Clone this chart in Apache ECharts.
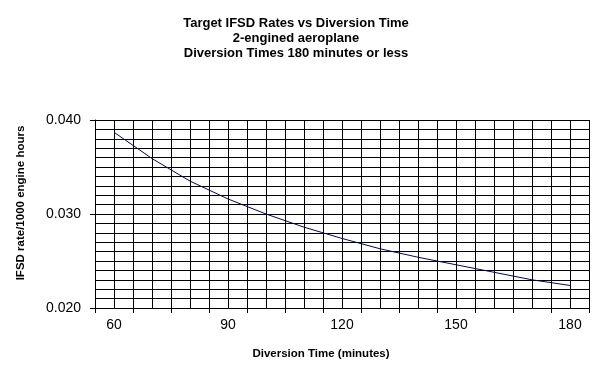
<!DOCTYPE html>
<html>
<head>
<meta charset="utf-8">
<script src="https://cdn.jsdelivr.net/npm/echarts@6/dist/echarts.min.js"></script>
<style>html,body{margin:0;padding:0;background:#fff}#c{width:601px;height:385px}</style>
</head>
<body>
<div id="c"></div>
<script>
var categories = ['60','70','80','90','100','110','120','130','140','150','160','170','180'];
var ifsdRate = [0.0387, 0.0359, 0.0335, 0.0316, 0.0300, 0.0286, 0.0274, 0.0263, 0.0254, 0.0246, 0.0238, 0.0230, 0.0224];
var titleLines = ['Target IFSD Rates vs Diversion Time', '2-engined aeroplane', 'Diversion Times 180 minutes or less'];
var xName = 'Diversion Time (minutes)';
var yName = 'IFSD rate/1000 engine hours';

var chart = echarts.init(document.getElementById('c'), null, {renderer: 'canvas'});
var black = '#000';
chart.setOption({
  animation: false,
  backgroundColor: '#fff',
  title: {
    text: titleLines.join('\n'),
    left: 291, top: 11, textAlign: 'center',
    textStyle: {fontFamily: 'Liberation Sans', fontWeight: 'bold', fontSize: 13, lineHeight: 15, color: black}
  },
  grid: {left: 95, right: 12, top: 120, bottom: 77, containLabel: false},
  xAxis: [{
    type: 'category', data: categories, boundaryGap: true, position: 'bottom',
    axisLine: {show: true, lineStyle: {color: black, width: 1}},
    axisTick: {show: true, interval: 0, length: 5, lineStyle: {color: black}},
    axisLabel: {interval: 2, fontFamily: 'Liberation Sans', fontSize: 14, color: black, margin: 10},
    splitLine: {show: true, interval: 0, lineStyle: {color: black, width: 1}},
    name: xName, nameLocation: 'middle', nameGap: 40,
    nameTextStyle: {fontFamily: 'Liberation Sans', fontWeight: 'bold', fontSize: 11.5, color: black, padding: [0, 42, 0, 0]}
  }, {
    type: 'value', min: 0, max: 26, interval: 1, position: 'bottom',
    axisLine: {show: false}, axisTick: {show: false}, axisLabel: {show: false},
    splitLine: {show: true, lineStyle: {color: black, width: 1}}
  }],
  yAxis: {
    type: 'value', min: 0.02, max: 0.04, interval: 0.01, splitNumber: 2,
    axisLine: {show: true, lineStyle: {color: black, width: 1}},
    axisTick: {show: true, length: 5, lineStyle: {color: black}},
    axisLabel: {formatter: function (v) { return v.toFixed(3); }, fontFamily: 'Liberation Sans', fontSize: 14, color: black, margin: 14},
    splitLine: {show: true, lineStyle: {color: black, width: 1}},
    minorTick: {show: false, splitNumber: 10},
    minorSplitLine: {show: true, lineStyle: {color: black, width: 1}},
    name: yName, nameLocation: 'middle', nameGap: 68, nameRotate: 90,
    nameTextStyle: {fontFamily: 'Liberation Sans', fontWeight: 'bold', fontSize: 11.5, color: black, padding: [0, 0, 0, 22]}
  },
  series: [{
    type: 'line', xAxisIndex: 0, data: ifsdRate, showSymbol: false, symbol: 'none', smooth: false,
    lineStyle: {color: '#000080', width: 1}
  }]
});
</script>
</body>
</html>
